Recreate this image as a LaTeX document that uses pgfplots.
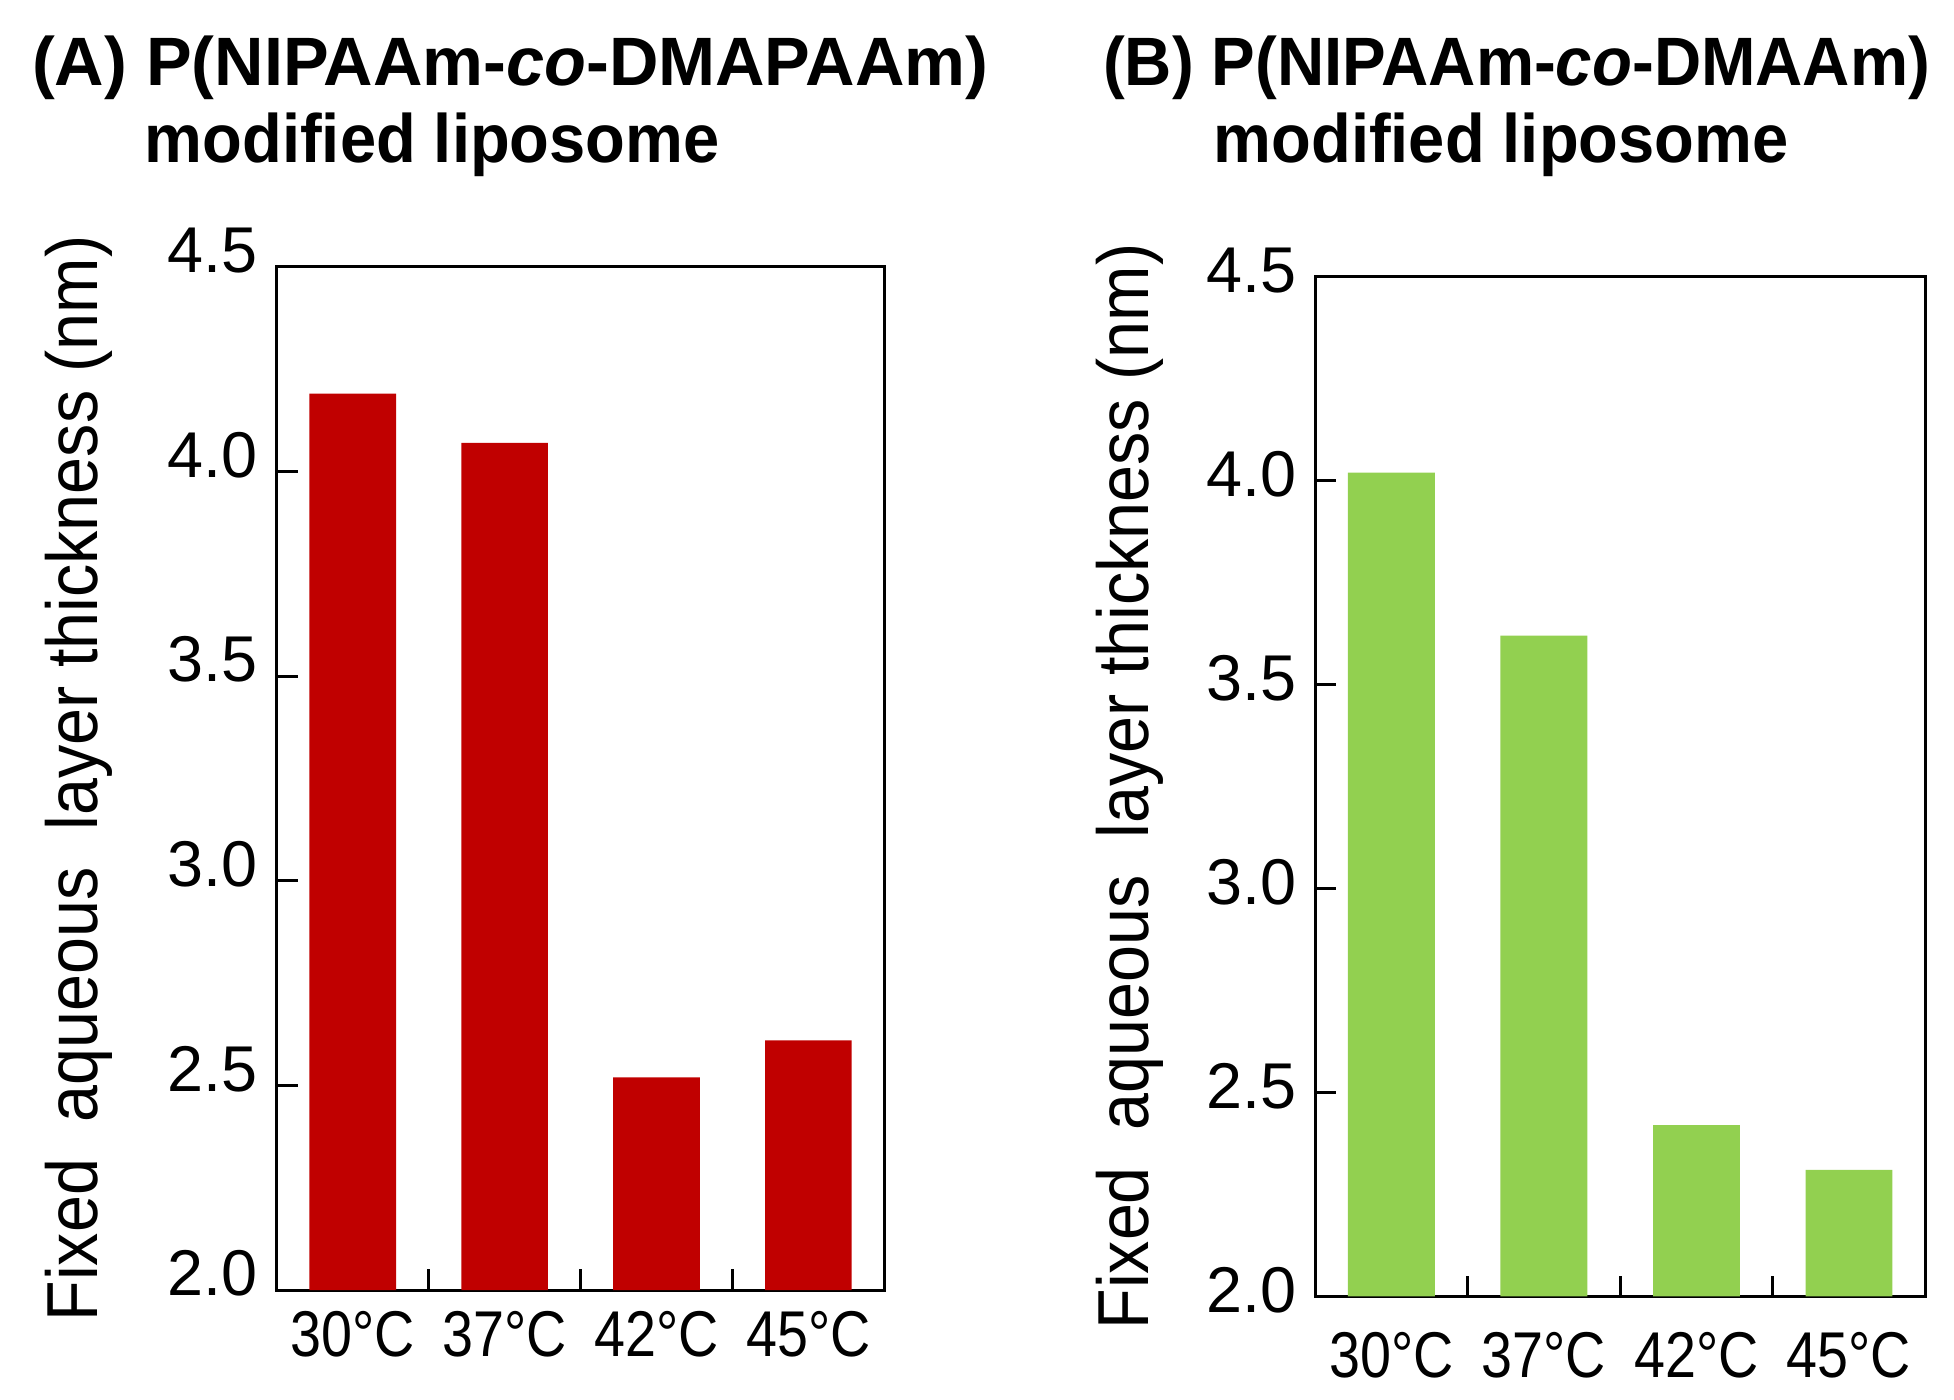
\documentclass[border=0pt]{standalone}
\usepackage{fontspec}
\setmainfont{Liberation Sans}
\newfontfamily\tickfont[FakeStretch=0.86]{Liberation Sans}
\newfontfamily\labfont[FakeStretch=0.92]{Liberation Sans}
\newfontfamily\titlefont[FakeStretch=0.95]{Liberation Sans}
\newfontfamily\titlefontB[FakeStretch=0.955]{Liberation Sans}
\usepackage{pgfplots}
\pgfplotsset{compat=1.18}

\definecolor{barred}{HTML}{C00000}
\definecolor{bargreen}{HTML}{92D050}

\pgfplotsset{
  panel/.style={
    scale only axis,
    anchor=north west,
    xmin=-0.5, xmax=3.5,
    ymin=2, ymax=4.5,
    % ticks between the bars, names under the bars
    xtick={0.5,1.5,2.5},
    xticklabels={},
    extra x ticks={0,1,2,3},
    extra x tick labels={30°C,37°C,42°C,45°C},
    extra x tick style={tick style={draw=none}},
    ytick={2,2.5,3,3.5,4,4.5},
    xtick pos=bottom, ytick pos=left,
    tick align=inside,
    major tick length=5pt,
    every tick/.style={black, line width=0.7pt},
    axis line style={line width=0.7pt},
    yticklabel style={font=\fontsize{15.5}{16}\selectfont, xshift=-1pt,
      /pgf/number format/fixed, /pgf/number format/fixed zerofill,
      /pgf/number format/precision=1, /pgf/number format/assume math mode=true},
    xticklabel style={font=\tickfont\fontsize{15.5}{16}\selectfont},
    ylabel style={font=\labfont\fontsize{17.3}{18}\selectfont},
    ylabel={Fixed\ \ aqueous\ \ layer thickness (nm)},
  },
}
\tikzset{
  ttl/.style={anchor=base west, font=\titlefont\bfseries\fontsize{16.4}{18}\selectfont, inner sep=0pt},
}

\begin{document}
\begin{tikzpicture}
\path[use as bounding box] (0pt,0pt) rectangle (468pt,-335.3pt);

\node[ttl, font=\bfseries\fontsize{16.4}{18}\selectfont] at (7.5pt,-20.4pt) {(A) P(NIPAAm-\textit{co}-DMAPAAm)};
\node[ttl] at (34.5pt,-39pt) {modified liposome};
\node[ttl, font=\titlefontB\bfseries\fontsize{16.4}{18}\selectfont] at (264pt,-20.4pt) {(B) P(NIPAAm-\textit{co}-DMAAm)};
\node[ttl] at (290.5pt,-39pt) {modified liposome};

\begin{axis}[panel, at={(66.3pt,-63.9pt)}, width=145.5pt, height=245.1pt,
  ylabel shift=6.5pt,
  yticklabel style={yshift=4pt},
  xticklabel style={yshift=-1.5pt}]
\addplot[ybar, bar width=0.57, fill=barred, draw=none]
  coordinates {(0,4.19) (1,4.07) (2,2.52) (3,2.61)};
\end{axis}

\begin{axis}[panel, at={(315pt,-66.3pt)}, width=146.1pt, height=244.2pt,
  ylabel shift=3.5pt,
  yticklabel style={yshift=1.6pt},
  xticklabel style={yshift=-5pt}]
\addplot[ybar, bar width=0.57, fill=bargreen, draw=none]
  coordinates {(0,4.02) (1,3.62) (2,2.42) (3,2.31)};
\end{axis}
\end{tikzpicture}
\end{document}
